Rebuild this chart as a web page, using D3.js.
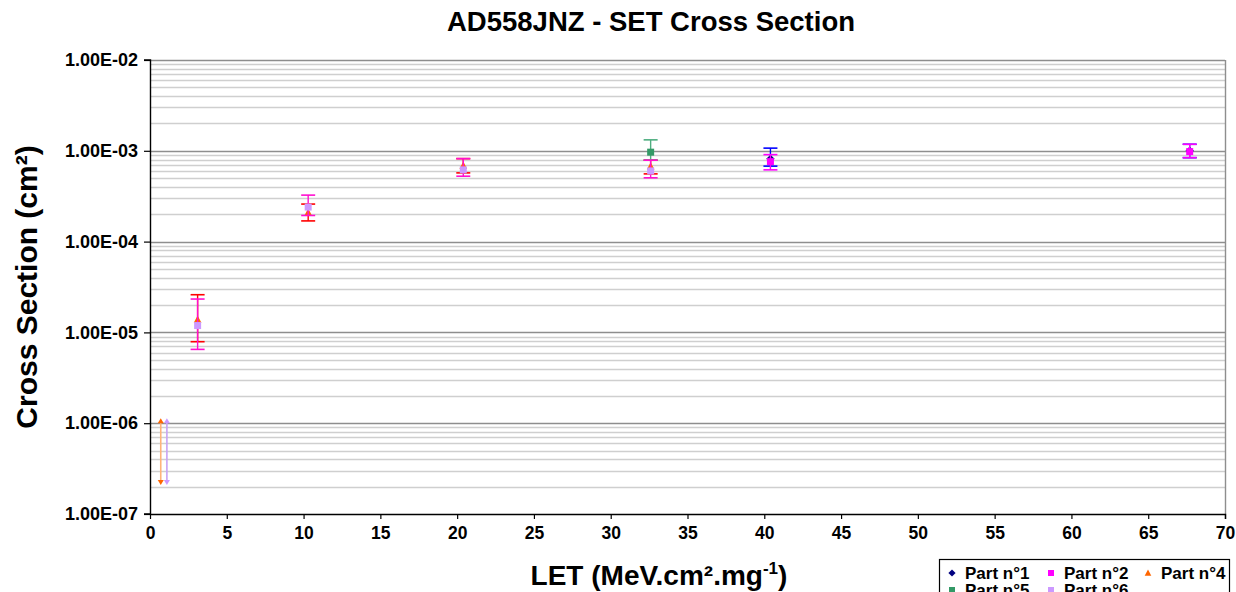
<!DOCTYPE html>
<html>
<head>
<meta charset="utf-8">
<script src="https://cdn.jsdelivr.net/npm/d3@7"></script>
<style>
  html, body { margin: 0; padding: 0; background: #fff; }
  svg { display: block; font-family: "Liberation Sans", Arial, sans-serif; }
</style>
</head>
<body>
<svg id="chart" width="1236" height="592"></svg>
<script>
// ---------------- DATA ----------------
const title = "AD558JNZ - SET Cross Section";
const xTicks = [0, 5, 10, 15, 20, 25, 30, 35, 40, 45, 50, 55, 60, 65, 70];
const yTicks = [1e-7, 1e-6, 1e-5, 1e-4, 1e-3, 1e-2];
const seriesNames = ["Part n°1", "Part n°2", "Part n°4", "Part n°5", "Part n°6"];

// Part n°1
const p1LET   = [40.4, 67.7];
const p1Value = [8.15e-4, 1.0e-3];
const p1Upper = [1.07e-3, 1.18e-3];
const p1Lower = [6.78e-4, 8.4e-4];
// Part n°2
const p2LET   = [40.4, 67.7];
const p2Value = [7.6e-4, 9.8e-4];
const p2Upper = [9.08e-4, 1.18e-3];
const p2Lower = [6.17e-4, 8.4e-4];
// Part n°4
const p4LET   = [0.7, 3.1, 10.3, 20.4, 32.6];
const p4Value = [1.05e-6, 1.38e-5, 2.09e-4, 6.87e-4, 6.72e-4];
const p4Upper = [1.05e-6, 2.6e-5, 2.59e-4, 8.2e-4, 7.88e-4];
const p4Lower = [2.2e-7, 7.9e-6, 1.69e-4, 5.71e-4, 5.57e-4];
// Part n°5
const p5LET   = [32.6];
const p5Value = [9.66e-4];
const p5Upper = [1.32e-3];
const p5Lower = [7.9e-4];
// Part n°6
const p6LET   = [1.1, 3.1, 10.3, 20.4, 32.6];
const p6Value = [1.05e-6, 1.19e-5, 2.4e-4, 6.17e-4, 6.0e-4];
const p6Upper = [1.05e-6, 2.33e-5, 3.25e-4, 8.2e-4, 7.88e-4];
const p6Lower = [2.2e-7, 6.5e-6, 1.94e-4, 5.25e-4, 5.04e-4];

// ---------------- STYLE ----------------
const styles = [
  { marker: "diamond",  fill: "#000080", err: "#0000ff" },
  { marker: "square",   fill: "#ff00ff", err: "#ff00ff" },
  { marker: "triangle", fill: "#ff6600", err: "#ff0000", limit: "#ffb37a" },
  { marker: "square",   fill: "#339966", err: "#4fae80" },
  { marker: "square",   fill: "#cc99ff", err: "#ff10d0", limit: "#c9a3f5" }
];

const series = [
  [p1LET, p1Value, p1Upper, p1Lower],
  [p2LET, p2Value, p2Upper, p2Lower],
  [p4LET, p4Value, p4Upper, p4Lower],
  [p5LET, p5Value, p5Upper, p5Lower],
  [p6LET, p6Value, p6Upper, p6Lower]
].map((s, i) => ({
  name: seriesNames[i],
  style: styles[i],
  points: s[0].map((x, j) => ({ x, y: s[1][j], hi: s[2][j], lo: s[3][j] }))
}));

// ---------------- LAYOUT ----------------
const plot = { left: 150, right: 1225, top: 60, bottom: 514 };
const svg = d3.select("#chart");
const x = d3.scaleLinear().domain([0, 70]).range([plot.left, plot.right]);
const y = d3.scaleLog().domain([1e-7, 1e-2]).range([plot.bottom, plot.top]);

function fmtE(v) {
  const e = Math.round(Math.log10(v));
  const sign = e < 0 ? "-" : "+";
  const a = Math.abs(e);
  return "1.00E" + sign + (a < 10 ? "0" + a : a);
}

// gridlines
const gridG = svg.append("g");
const minor = [];
for (let d = -7; d < -2; d++) for (let k = 2; k <= 9; k++) minor.push(k * Math.pow(10, d));
gridG.selectAll("line.minor").data(minor).join("line")
  .attr("x1", plot.left).attr("x2", plot.right)
  .attr("y1", d => Math.round(y(d)) + 0.5).attr("y2", d => Math.round(y(d)) + 0.5)
  .attr("stroke", "#cfcfcf").attr("stroke-width", 1.4);
gridG.selectAll("line.major").data(yTicks.slice(1)).join("line")
  .attr("x1", plot.left).attr("x2", plot.right)
  .attr("y1", d => Math.round(y(d)) + 0.5).attr("y2", d => Math.round(y(d)) + 0.5)
  .attr("stroke", "#8e8e8e").attr("stroke-width", 1.4);
// right border
svg.append("line").attr("x1", plot.right + 0.5).attr("x2", plot.right + 0.5)
  .attr("y1", plot.top).attr("y2", plot.bottom).attr("stroke", "#8e8e8e").attr("stroke-width", 1.4);

// axes
const yAxis = svg.append("g").attr("transform", `translate(${plot.left},0)`)
  .call(d3.axisLeft(y).tickValues(yTicks).tickFormat(fmtE).tickSize(6).tickPadding(6));
const xAxis = svg.append("g").attr("transform", `translate(0,${plot.bottom})`)
  .call(d3.axisBottom(x).tickValues(xTicks).tickFormat(d3.format("d")).tickSize(5).tickPadding(8));
[yAxis, xAxis].forEach(g => {
  g.select(".domain").attr("stroke", "#000").attr("stroke-width", 1.4);
  g.selectAll(".tick line").attr("stroke", "#000").attr("stroke-width", 1.2);
  g.selectAll(".tick text").attr("fill", "#000").attr("font-size", 17.5)
    .attr("font-weight", "bold").attr("font-family", "'Liberation Sans', Arial, sans-serif");
});
yAxis.selectAll(".tick text").attr("font-size", 18);
xAxis.select(".domain").attr("d", `M${plot.left},0.5H${plot.right + 0.5}V5`);
yAxis.select(".domain").attr("d", `M-6,${plot.bottom}H0.5V${plot.top}H-6`);

// markers
function markerPath(type, size) {
  const s = size;
  if (type === "diamond") return `M0,${-s*0.6}L${s*0.6},0L0,${s*0.6}L${-s*0.6},0Z`;
  if (type === "triangle") return `M0,${-s*0.6}L${s*0.55},${s*0.45}L${-s*0.55},${s*0.45}Z`;
  return `M${-s/2},${-s/2}h${s}v${s}h${-s}Z`;
}

const dataG = svg.append("g");
const cap = 7;
series.forEach(s => {
  const g = dataG.append("g");
  s.points.forEach(p => {
    const cx = x(p.x);
    if (p.hi === p.y && p.lo < p.y) {
      // upper-limit style: light line down with arrow head
      g.append("line").attr("x1", cx).attr("x2", cx)
        .attr("y1", y(p.y)).attr("y2", y(p.lo))
        .attr("stroke", s.style.limit).attr("stroke-width", 1.6);
      g.append("path").attr("transform", `translate(${cx},${y(p.lo)})`)
        .attr("d", "M-3,-3L3,-3L0,2Z").attr("fill", s.style.fill);
      g.append("path").attr("transform", `translate(${cx},${y(p.y)})`)
        .attr("d", "M-3,2L3,2L0,-3Z").attr("fill", s.style.fill);
      return;
    }
    g.append("line").attr("x1", cx).attr("x2", cx)
      .attr("y1", y(p.hi)).attr("y2", y(p.lo))
      .attr("stroke", s.style.err).attr("stroke-width", 1.4);
    [p.hi, p.lo].forEach(v => {
      g.append("line").attr("x1", cx - cap).attr("x2", cx + cap)
        .attr("y1", y(v)).attr("y2", y(v))
        .attr("stroke", s.style.err).attr("stroke-width", 1.6);
    });
    g.append("path").attr("transform", `translate(${cx},${y(p.y)})`)
      .attr("d", markerPath(s.style.marker, 7)).attr("fill", s.style.fill);
  });
});

// title
svg.append("text").attr("x", 651).attr("y", 31).attr("text-anchor", "middle")
  .attr("font-size", 27.5).attr("font-weight", "bold").text(title);

// y label
const yl = svg.append("text")
  .attr("transform", "translate(37,287) rotate(-90)")
  .attr("text-anchor", "middle").attr("font-size", 30).attr("font-weight", "bold");
yl.append("tspan").text("Cross Section (cm²)");

// x label
const xl = svg.append("text").attr("x", 659).attr("y", 585).attr("text-anchor", "middle")
  .attr("font-size", 28).attr("font-weight", "bold");
xl.append("tspan").text("LET (MeV.cm².mg");
xl.append("tspan").attr("dy", -11).attr("font-size", 17).text("-1");
xl.append("tspan").attr("dy", 11).text(")");

// legend
const lg = svg.append("g");
lg.append("rect").attr("x", 939.5).attr("y", 559.5).attr("width", 290).attr("height", 60)
  .attr("fill", "#fff").attr("stroke", "#000").attr("stroke-width", 1.2);
const legPos = [[952, 573], [1051, 573], [1148, 573], [952, 590], [1051, 590]];
series.forEach((s, i) => {
  const [lx, ly] = legPos[i];
  lg.append("path").attr("transform", `translate(${lx},${ly})`)
    .attr("d", markerPath(s.style.marker, 6)).attr("fill", s.style.fill);
  lg.append("text").attr("x", lx + 13).attr("y", ly + 6).attr("font-size", 17)
    .attr("font-weight", "bold").text(s.name);
});
</script>
</body>
</html>
